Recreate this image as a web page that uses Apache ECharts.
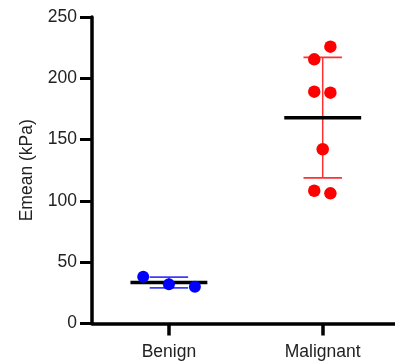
<!DOCTYPE html>
<html>
<head>
<meta charset="utf-8">
<script src="https://cdn.jsdelivr.net/npm/echarts@6/dist/echarts.min.js"></script>
<style>html,body{margin:0;padding:0;background:#fff}#c{width:395px;height:361px}</style>
</head>
<body>
<div id="c"></div>
<script>
var categories = ['Benign', 'Malignant'];
var yTicks = [0, 50, 100, 150, 200, 250];
var benignValues = [38.2, 32.0, 30.0];
var benignJitter = [-0.167, 0, 0.169];
var malignantValues = [225.8, 215.5, 189.1, 188.3, 142.1, 108.3, 106.2];
var malignantJitter = [0.05, -0.055, -0.055, 0.05, 0, -0.055, 0.05];
var groupMeans = [33.4, 167.9];
var groupSD = [4.4, 49.2];
var groupColors = ['#0000ff', '#ff0000'];
var barColors = ['#3b3bff', '#ff3030'];

var benignData = benignValues.map(function (v, i) { return [1 + benignJitter[i], v]; });
var malignantData = malignantValues.map(function (v, i) { return [2 + malignantJitter[i], v]; });
var summaryData = groupMeans.map(function (m, i) { return [i + 1, m, groupSD[i], i]; });

var font = 'Liberation Sans, Arial, Helvetica, sans-serif';
var chart = echarts.init(document.getElementById('c'), null, {renderer: 'canvas'});
chart.setOption({
  animation: false,
  grid: {left: 92, right: 0, top: 17, bottom: 37, containLabel: false},
  xAxis: {
    type: 'value', min: 0.5, max: 2.47,
    splitLine: {show: false},
    axisLine: {show: true, onZero: false, lineStyle: {color: '#000', width: 3.5}},
    axisTick: {show: true, customValues: [1, 2], length: 12, lineStyle: {color: '#000', width: 3.5}},
    axisLabel: {show: true, customValues: [1, 2], margin: 19.5, color: '#222', fontSize: 17.5, fontFamily: font,
      formatter: function (v) { return categories[Math.round(v) - 1] || ''; }}
  },
  yAxis: {
    type: 'value', min: 0, max: 250, interval: 50,
    name: 'Emean (kPa)', nameLocation: 'middle', nameGap: 56,
    nameTextStyle: {color: '#222', fontSize: 17.5, fontFamily: font},
    splitLine: {show: false},
    axisLine: {show: true, lineStyle: {color: '#000', width: 3.5}},
    axisTick: {show: true, length: 12, lineStyle: {color: '#000', width: 3}},
    axisLabel: {margin: 15, color: '#222', fontSize: 17.5, fontFamily: font,
      formatter: function (v) { return yTicks.indexOf(v) >= 0 ? String(v) : ''; }}
  },
  series: [
    {
      type: 'custom', z: 2,
      data: summaryData,
      renderItem: function (params, api) {
        var x = api.value(0), m = api.value(1), sd = api.value(2), gi = api.value(3);
        var c = api.coord([x, m]);
        var top = api.coord([x, m + sd]);
        var bot = api.coord([x, m - sd]);
        var halfMean = api.size([0.25, 0])[0];
        var halfCap = api.size([0.125, 0])[0];
        var ec = barColors[gi];
        return {
          type: 'group',
          children: [
            {type: 'line', shape: {x1: top[0], y1: top[1], x2: bot[0], y2: bot[1]}, style: {stroke: ec, lineWidth: 1.5}},
            {type: 'line', shape: {x1: top[0] - halfCap, y1: top[1], x2: top[0] + halfCap, y2: top[1]}, style: {stroke: ec, lineWidth: 1.8}},
            {type: 'line', shape: {x1: bot[0] - halfCap, y1: bot[1], x2: bot[0] + halfCap, y2: bot[1]}, style: {stroke: ec, lineWidth: 1.8}},
            {type: 'line', shape: {x1: c[0] - halfMean, y1: c[1], x2: c[0] + halfMean, y2: c[1]}, style: {stroke: '#000', lineWidth: 3.5}}
          ]
        };
      }
    },
    {type: 'scatter', z: 3, data: benignData, symbol: 'circle', symbolSize: 12, itemStyle: {color: groupColors[0], opacity: 1}},
    {type: 'scatter', z: 3, data: malignantData, symbol: 'circle', symbolSize: 12.5, itemStyle: {color: groupColors[1], opacity: 1}}
  ]
});
</script>
</body>
</html>
